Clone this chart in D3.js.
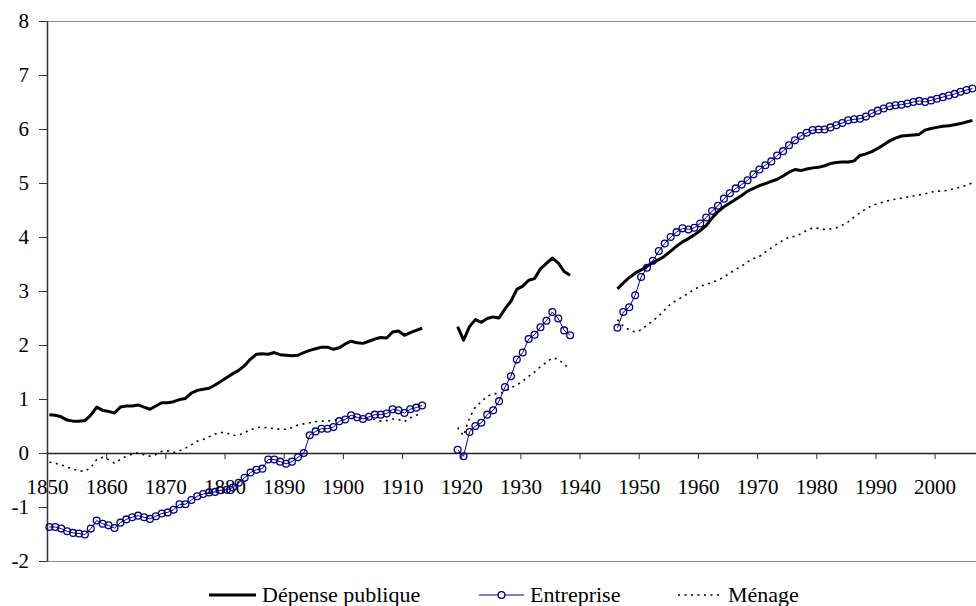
<!DOCTYPE html>
<html>
<head>
<meta charset="utf-8">
<script src="https://cdn.jsdelivr.net/npm/d3@7"></script>
<style>
  body { margin: 0; background: #fff; }
  svg, svg text { font-family: "Liberation Serif", "Times New Roman", Times, "DejaVu Serif", serif; }
</style>
</head>
<body>
<svg width="976" height="606"></svg>
<script>
// start year of each continuous period (gaps = wars)
const segmentStarts = [1850, 1919, 1946];

// Dépense publique
const depense1850 = [
  0.71, 0.70, 0.67, 0.61, 0.59, 0.59, 0.60, 0.70, 0.85, 0.79,
  0.77, 0.74, 0.85, 0.87, 0.87, 0.89, 0.85, 0.81, 0.87, 0.93,
  0.93, 0.95, 0.99, 1.01, 1.11, 1.16, 1.18, 1.20, 1.26, 1.33,
  1.40, 1.47, 1.53, 1.62, 1.74, 1.83, 1.84, 1.83, 1.86, 1.82,
  1.81, 1.80, 1.81, 1.86, 1.90, 1.93, 1.96, 1.96, 1.92, 1.95,
  2.02, 2.07, 2.04, 2.03, 2.07, 2.11, 2.14, 2.13, 2.24, 2.26,
  2.18, 2.23, 2.27, 2.31
];
const depense1919 = [2.34, 2.09, 2.34, 2.47, 2.42, 2.49, 2.52, 2.50, 2.67, 2.81,
  3.03, 3.09, 3.20, 3.23, 3.41, 3.51, 3.61, 3.52, 3.36, 3.29];
const depense1946 = [
  3.04, 3.15, 3.25, 3.33, 3.39, 3.46, 3.53, 3.58, 3.65, 3.74,
  3.83, 3.91, 3.97, 4.04, 4.12, 4.21, 4.35, 4.47, 4.56, 4.63,
  4.70, 4.77, 4.85, 4.90, 4.95, 4.99, 5.03, 5.07, 5.13, 5.20,
  5.25, 5.23, 5.26, 5.28, 5.29, 5.32, 5.36, 5.38, 5.39, 5.39,
  5.41, 5.51, 5.54, 5.58, 5.64, 5.71, 5.78, 5.83, 5.87, 5.88,
  5.89, 5.90, 5.98, 6.01, 6.03, 6.05, 6.06, 6.08, 6.10, 6.13,
  6.16
];

// Entreprise
const entreprise1850 = [
  -1.37, -1.37, -1.40, -1.45, -1.48, -1.49, -1.51, -1.40, -1.25, -1.31,
  -1.34, -1.39, -1.29, -1.23, -1.19, -1.16, -1.19, -1.22, -1.17, -1.12,
  -1.10, -1.05, -0.95, -0.95, -0.87, -0.80, -0.76, -0.73, -0.72, -0.69,
  -0.68, -0.64, -0.55, -0.46, -0.36, -0.31, -0.29, -0.12, -0.12, -0.16,
  -0.20, -0.16, -0.08, 0.00, 0.33, 0.40, 0.45, 0.45, 0.48, 0.59,
  0.62, 0.70, 0.66, 0.63, 0.67, 0.71, 0.71, 0.73, 0.81, 0.79,
  0.74, 0.81, 0.84, 0.88
];
const entreprise1919 = [0.06, -0.06, 0.39, 0.50, 0.56, 0.71, 0.79, 0.96, 1.22, 1.42,
  1.73, 1.86, 2.11, 2.19, 2.33, 2.45, 2.61, 2.49, 2.27, 2.18];
const entreprise1946 = [
  2.32, 2.61, 2.70, 2.92, 3.26, 3.43, 3.56, 3.74, 3.88, 4.00,
  4.09, 4.16, 4.14, 4.17, 4.25, 4.36, 4.48, 4.58, 4.71, 4.81,
  4.90, 4.97, 5.05, 5.16, 5.25, 5.33, 5.40, 5.51, 5.59, 5.70,
  5.79, 5.87, 5.93, 5.98, 5.99, 5.99, 6.03, 6.07, 6.11, 6.16,
  6.18, 6.19, 6.23, 6.29, 6.34, 6.38, 6.42, 6.44, 6.45, 6.47,
  6.50, 6.52, 6.50, 6.53, 6.56, 6.59, 6.62, 6.65, 6.69, 6.72,
  6.75
];

// Ménage
const menage1850 = [
  -0.17, -0.19, -0.22, -0.26, -0.30, -0.33, -0.34, -0.27, -0.12, -0.08,
  -0.12, -0.19, -0.12, -0.06, -0.02, 0.00, -0.03, -0.06, -0.03, 0.03,
  0.04, 0.01, 0.04, 0.09, 0.15, 0.22, 0.25, 0.30, 0.35, 0.38,
  0.37, 0.33, 0.33, 0.38, 0.43, 0.47, 0.48, 0.46, 0.45, 0.44,
  0.44, 0.47, 0.52, 0.54, 0.56, 0.58, 0.59, 0.59, 0.61, 0.62,
  0.64, 0.67, 0.66, 0.64, 0.63, 0.62, 0.59, 0.60, 0.63, 0.62,
  0.58, 0.65, 0.70, 0.75
];
const menage1919 = [0.47, 0.32, 0.65, 0.85, 0.95, 1.05, 1.10, 1.10, 1.14, 1.21,
  1.26, 1.33, 1.42, 1.50, 1.60, 1.68, 1.76, 1.74, 1.64, 1.56];
const menage1946 = [
  2.47, 2.35, 2.28, 2.24, 2.28, 2.37, 2.45, 2.54, 2.65, 2.76,
  2.83, 2.89, 2.96, 3.03, 3.09, 3.12, 3.16, 3.20, 3.26, 3.33,
  3.40, 3.46, 3.54, 3.60, 3.64, 3.72, 3.80, 3.87, 3.94, 4.00,
  4.01, 4.06, 4.12, 4.17, 4.16, 4.14, 4.15, 4.17, 4.22, 4.28,
  4.37, 4.45, 4.52, 4.58, 4.62, 4.65, 4.68, 4.70, 4.72, 4.74,
  4.76, 4.78, 4.80, 4.83, 4.85, 4.85, 4.87, 4.90, 4.92, 4.96,
  5.00
];

const yTicks = [-2, -1, 0, 1, 2, 3, 4, 5, 6, 7, 8];
const xTicks = [1850, 1860, 1870, 1880, 1890, 1900, 1910, 1920, 1930, 1940, 1950, 1960, 1970, 1980, 1990, 2000];
const seriesNames = ["Dépense publique", "Entreprise", "Ménage"];

// join the three periods, with a null point between them so the line breaks
function makeSeries(parts) {
  const out = [];
  parts.forEach((vals, i) => {
    vals.forEach((v, j) => out.push({ year: segmentStarts[i] + j, value: v }));
    out.push({ year: segmentStarts[i] + vals.length, value: null });
  });
  return out;
}

const depense = makeSeries([depense1850, depense1919, depense1946]);
const entreprise = makeSeries([entreprise1850, entreprise1919, entreprise1946]);
const menage = makeSeries([menage1850, menage1919, menage1946]);

const svg = d3.select("svg");
const FONT = 21;
const SERIF = "'Liberation Serif', 'Times New Roman', Times, 'DejaVu Serif', serif";

const x = d3.scaleLinear().domain([1850, 2007]).range([47, 976]);
const y = d3.scaleLinear().domain([-2, 8]).range([561, 21]);
const px = d => x(d.year + 0.4); // points sit just right of the year tick

// plot area top / bottom borders
svg.append("line")
  .attr("x1", x(1850)).attr("x2", 976)
  .attr("y1", y(8) + 0.5).attr("y2", y(8) + 0.5)
  .attr("stroke", "#8c8c8c").attr("stroke-width", 1.2);
svg.append("line")
  .attr("x1", x(1850)).attr("x2", 976)
  .attr("y1", y(-2) + 0.5).attr("y2", y(-2) + 0.5)
  .attr("stroke", "#8c8c8c").attr("stroke-width", 1.2);

// y axis
const yAxis = svg.append("g")
  .attr("transform", `translate(${x(1850)},0)`)
  .call(d3.axisLeft(y).tickValues(yTicks).tickSize(8).tickSizeOuter(0).tickPadding(10).tickFormat(d => String(d)));
yAxis.attr("font-family", null).attr("font-size", null);
yAxis.select(".domain").attr("stroke", "#333").attr("stroke-width", 1.5);
yAxis.selectAll(".tick line").attr("stroke", "#333");
yAxis.selectAll("text").attr("fill", "#000")
  .style("font-family", SERIF).style("font-size", FONT + "px");

// x axis at zero
const xAxis = svg.append("g")
  .attr("transform", `translate(0,${y(0)})`)
  .call(d3.axisBottom(x).tickValues(xTicks).tickSize(6).tickSizeOuter(0).tickFormat(d => String(d)));
xAxis.attr("font-family", null).attr("font-size", null);
xAxis.select(".domain").attr("stroke", "#222").attr("stroke-width", 1.5);
xAxis.selectAll(".tick line").attr("stroke", "#333");
xAxis.selectAll("text").attr("fill", "#000").attr("y", 26)
  .style("font-family", SERIF).style("font-size", FONT + "px");

const line = d3.line()
  .defined(d => d.value !== null)
  .x(px)
  .y(d => y(d.value));

// Ménage - dotted
svg.append("path")
  .datum(menage)
  .attr("fill", "none")
  .attr("stroke", "#000")
  .attr("stroke-width", 1.6)
  .attr("stroke-dasharray", "2,4.5")
  .attr("d", line);

// Dépense publique - thick black
svg.append("path")
  .datum(depense)
  .attr("fill", "none")
  .attr("stroke", "#000")
  .attr("stroke-width", 3)
  .attr("stroke-linejoin", "round")
  .attr("d", line);

// Entreprise - navy line with hollow circles
svg.append("path")
  .datum(entreprise)
  .attr("fill", "none")
  .attr("stroke", "#000080")
  .attr("stroke-width", 1)
  .attr("d", line);

svg.append("g")
  .selectAll("circle")
  .data(entreprise.filter(d => d.value !== null))
  .join("circle")
  .attr("cx", px)
  .attr("cy", d => y(d.value))
  .attr("r", 3.4)
  .attr("fill", "none")
  .attr("stroke", "#000080")
  .attr("stroke-width", 1.3);

// legend
const legendY = 595;
const legend = svg.append("g");

const items = [
  { x0: 209, x1: 256, tx: 262 },
  { x0: 479, x1: 524, tx: 530 },
  { x0: 678, x1: 722, tx: 728 }
];

legend.append("line")
  .attr("x1", items[0].x0).attr("x2", items[0].x1)
  .attr("y1", legendY).attr("y2", legendY)
  .attr("stroke", "#000").attr("stroke-width", 3);

legend.append("line")
  .attr("x1", items[1].x0).attr("x2", items[1].x1)
  .attr("y1", legendY).attr("y2", legendY)
  .attr("stroke", "#000080").attr("stroke-width", 1);
legend.append("circle")
  .attr("cx", (items[1].x0 + items[1].x1) / 2).attr("cy", legendY)
  .attr("r", 3.4).attr("fill", "#fff")
  .attr("stroke", "#000080").attr("stroke-width", 1.3);

legend.append("line")
  .attr("x1", items[2].x0).attr("x2", items[2].x1)
  .attr("y1", legendY).attr("y2", legendY)
  .attr("stroke", "#000").attr("stroke-width", 1.6)
  .attr("stroke-dasharray", "2,4.5");

legend.selectAll("text")
  .data(seriesNames)
  .join("text")
  .attr("x", (d, i) => items[i].tx)
  .attr("y", legendY + 7)
  .style("font-family", SERIF)
  .style("font-size", "22px")
  .text(d => d);
</script>
</body>
</html>
